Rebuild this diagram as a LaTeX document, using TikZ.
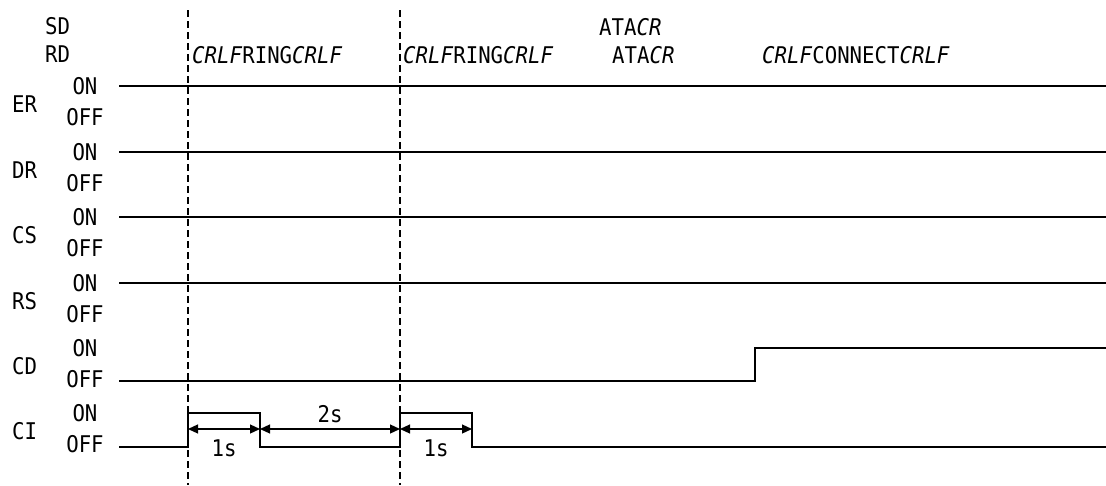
\documentclass[tikz,border=0pt]{standalone}
\usepackage{fontspec}
\setmainfont{DejaVu Sans Mono}[FakeStretch=0.9]
\usetikzlibrary{arrows.meta}
\tikzset{
  lbl/.style={inner sep=0pt, font=\fontsize{23}{25}\selectfont},
  lblL/.style={lbl, anchor=west},
  sig/.style={line width=1.8pt, line join=miter},
  guide/.style={line width=1.1pt, dash pattern=on 7pt off 4pt},
  dim/.style={line width=1.2pt, {Triangle[length=10pt,width=9pt]}-{Triangle[length=10pt,width=9pt]}}
}
\begin{document}
\begin{tikzpicture}[x=1pt,y=-1pt]
\useasboundingbox (0,0) rectangle (1106,485);
% top labels
\node[lblL] (sd) at (45,26) {SD};
\node[lblL] (rd) at (45,54) {RD};
\node[lblL] (t1) at (192,55) {\textit{CRLF}RING\textit{CRLF}};
\node[lblL] (t2) at (403,55) {\textit{CRLF}RING\textit{CRLF}};
\node[lblL] (t3) at (612,55) {ATA\textit{CR}};
\node[lblL] (t4) at (599,27) {ATA\textit{CR}};
\node[lblL] (t5) at (762,55) {\textit{CRLF}CONNECT\textit{CRLF}};
% row labels
\foreach \n/\y in {ER/86,DR/152,CS/217,RS/283,CD/348,CI/413}{
  \node[lblL] (name\n) at (12,\y+18) {\n};
  \node[lbl] (on\n) at (85,\y) {ON};
  \node[lbl] (off\n) at (85,\y+31) {OFF};
}
% guides
\coordinate (g1t) at (188,10); \coordinate (g1b) at (188,485);
\coordinate (g2t) at (400,10); \coordinate (g2b) at (400,485);
\draw[guide] (g1t) -- (g1b);
\draw[guide] (g2t) -- (g2b);
% flat ON lines
\foreach \n/\y in {ER/86,DR/152,CS/217,RS/283}{
  \coordinate (s\n) at (119,\y); \coordinate (e\n) at (1106,\y);
  \draw[sig] (s\n) -- (e\n);
}
% CD
\coordinate (cd0) at (119,381); \coordinate (cd1) at (755,381);
\coordinate (cd2) at (755,348); \coordinate (cd3) at (1106,348);
\draw[sig] (cd0) -- (cd1) -- (cd2) -- (cd3);
% CI
\coordinate (ci0) at (119,447);
\coordinate (ci1) at (188,447); \coordinate (ci2) at (188,413);
\coordinate (ci3) at (260,413); \coordinate (ci4) at (260,447);
\coordinate (ci5) at (400,447); \coordinate (ci6) at (400,413);
\coordinate (ci7) at (472,413); \coordinate (ci8) at (472,447);
\coordinate (ci9) at (1106,447);
\draw[sig] (ci0) -- (ci1) -- (ci2) -- (ci3) -- (ci4) -- (ci5) -- (ci6) -- (ci7) -- (ci8) -- (ci9);
% dimensions
\coordinate (d1) at (188,429); \coordinate (d2) at (260,429);
\coordinate (d3) at (400,429); \coordinate (d4) at (472,429);
\draw[dim] (d1) -- (d2);
\draw[dim] (d2) -- (d3);
\draw[dim] (d3) -- (d4);
\node[lbl] (w1) at (224,448) {1s};
\node[lbl] (w2) at (330,414) {2s};
\node[lbl] (w3) at (436,448) {1s};
\end{tikzpicture}
\end{document}
